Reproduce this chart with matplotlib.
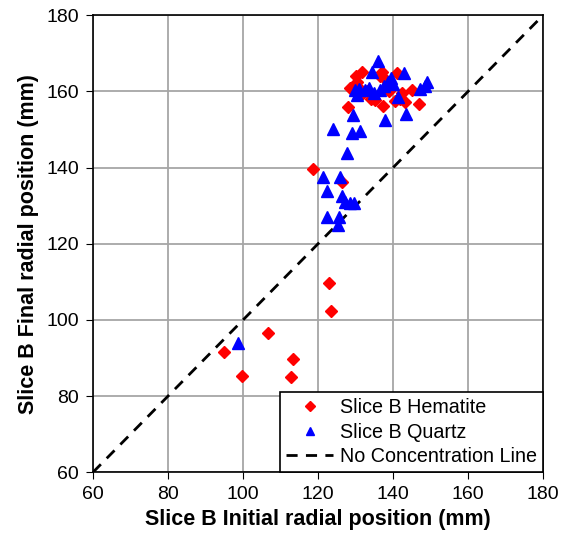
import matplotlib
matplotlib.use("Agg")
import matplotlib.pyplot as plt

plt.rcParams['font.family'] = ['Liberation Sans', 'DejaVu Sans']

# Slice B hematite: initial vs final radial position (mm)
hem_x = [94.8, 99.7, 106.7, 113.2, 112.7, 122.8, 123.4, 118.7, 126.3,
         128.0, 128.5, 130.3, 131.6, 133.0, 134.0, 135.2, 137.0, 137.2,
         136.5, 139.0, 141.0, 140.5, 141.9, 143.2, 142.5, 145.0, 146.8,
         131.0, 132.0, 130.0, 138.0]
hem_y = [91.5, 85.3, 96.6, 89.8, 85.0, 109.7, 102.4, 139.7, 136.2,
         155.8, 161.0, 162.5, 165.1, 160.0, 158.0, 157.7, 165.0, 156.1,
         164.0, 160.0, 164.7, 157.5, 158.1, 157.2, 159.5, 160.3, 156.8,
         161.0, 159.5, 164.0, 163.0]

# Slice B quartz
qtz_x = [98.6, 121.4, 125.9, 122.5, 126.3, 127.2, 128.5, 129.6, 122.3,
         125.7, 125.4, 127.8, 124.1, 129.0, 131.2, 129.4, 137.9, 143.5,
         136.1, 134.3, 142.9, 149.0, 147.2, 129.9, 132.5, 136.5, 138.7,
         140.1, 141.4, 130.5, 133.5, 137.5, 135.0, 139.5, 131.0, 148.5]
qtz_y = [94.0, 137.5, 137.5, 133.9, 132.5, 131.0, 130.7, 130.7, 127.0,
         127.0, 125.0, 143.8, 150.0, 149.2, 149.6, 153.8, 152.4, 154.0,
         168.0, 165.0, 164.7, 162.5, 160.5, 160.3, 160.3, 160.3, 162.5,
         162.0, 158.6, 159.0, 161.0, 161.5, 159.5, 163.5, 160.5, 161.5]

# 1:1 reference line
line_x = [60, 180]
line_y = [60, 180]

fig = plt.figure(figsize=(5.64, 5.44), dpi=100)
ax = fig.add_axes([0.165, 0.132, 0.798, 0.840])

ax.plot(hem_x, hem_y, linestyle='none', marker='D', markersize=6.5,
        color='#ff0000', markeredgecolor='#ff0000', label='Slice B Hematite', zorder=3)
ax.plot(qtz_x, qtz_y, linestyle='none', marker='^', markersize=8.5,
        color='#0000ff', markeredgecolor='#0000ff', label='Slice B Quartz', zorder=4)
ax.plot(line_x, line_y, linestyle=(0, (4, 3)), color='black', linewidth=2,
        label='No Concentration Line', zorder=2)

ax.set_xlim(60, 180)
ax.set_ylim(60, 180)
ax.set_xticks(range(60, 181, 20))
ax.set_yticks(range(60, 181, 20))
ax.grid(True, color='#a6a6a6', linewidth=1.3)
ax.set_axisbelow(True)
ax.tick_params(direction='out', length=5, labelsize=14, colors='black', pad=5)
for s in ax.spines.values():
    s.set_linewidth(1.2)

ax.set_xlabel('Slice B Initial radial position (mm)', fontsize=15.5,
              fontweight='bold', labelpad=4)
ax.set_ylabel('Slice B Final radial position (mm)', fontsize=15.5,
              fontweight='bold', labelpad=5)

leg = ax.legend(loc='lower right', fontsize=14.2, fancybox=False, framealpha=1,
                edgecolor='black', borderaxespad=0, handlelength=2.4,
                handletextpad=0.35, borderpad=0.3, labelspacing=0.28,
                markerscale=0.75)
leg.get_frame().set_linewidth(1.2)

fig.savefig('out.png', dpi=100)
